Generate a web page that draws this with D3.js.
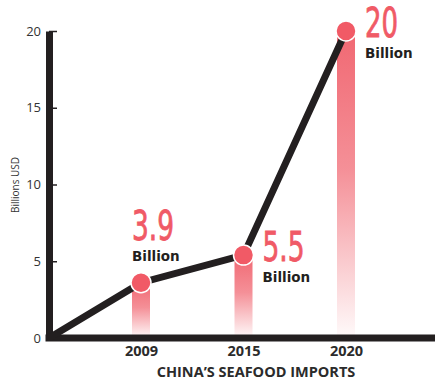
<!DOCTYPE html>
<html>
<head>
<meta charset="utf-8">
<script src="https://cdn.jsdelivr.net/npm/d3@7"></script>
<style>
  body { margin: 0; background: #fff; }
  svg { display: block; }
</style>
</head>
<body>
<div id="chart"></div>
<script>
var years = ["2009", "2015", "2020"];
var imports = [3.6, 5.4, 20];
var valueLabels = ["3.9", "5.5", "20"];
var unitLabel = "Billion";
var yTicks = [0, 5, 10, 15, 20];
var chartTitle = "CHINA\u2019S SEAFOOD IMPORTS";
var yTitle = "Billions USD";

function init ()
{
    var w = 435;
    var h = 380;
    var left = 49;
    var top = 31;
    var bottom = 338;
    var barWidth = 18;

    var xScale = d3.scalePoint()
        .domain(years)
        .range([141, 346]);

    var yScale = d3.scaleLinear()
        .domain([0, 20])
        .range([bottom, top]);

    var svg = d3.select("#chart")
        .append("svg")
        .attr("width", w)
        .attr("height", h);

    var grad = svg.append("defs")
        .append("linearGradient")
        .attr("id", "barFade")
        .attr("x1", 0).attr("y1", 0)
        .attr("x2", 0).attr("y2", 1);
    grad.append("stop").attr("offset", "0%").attr("stop-color", "#f0606b").attr("stop-opacity", 0.95);
    grad.append("stop").attr("offset", "45%").attr("stop-color", "#f0606b").attr("stop-opacity", 0.7);
    grad.append("stop").attr("offset", "100%").attr("stop-color", "#f0606b").attr("stop-opacity", 0.03);

    // fading bars under each point
    svg.selectAll("rect.bar")
        .data(imports)
        .enter()
        .append("rect")
        .attr("class", "bar")
        .attr("x", function(d, i){ return xScale(years[i]) - barWidth / 2; })
        .attr("y", function(d){ return yScale(d); })
        .attr("width", barWidth)
        .attr("height", function(d){ return yScale(0) - yScale(d); })
        .style("fill", "url(#barFade)");

    // y axis
    var yAxis = d3.axisLeft(yScale)
        .tickValues(yTicks)
        .tickSizeInner(-8)
        .tickSizeOuter(0)
        .tickPadding(8);

    var gy = svg.append("g")
        .attr("transform", "translate(" + left + ",0)")
        .call(yAxis);
    gy.select(".domain")
        .attr("stroke", "#231f20")
        .attr("stroke-width", 7);
    gy.selectAll(".tick line")
        .attr("stroke", "#231f20")
        .attr("stroke-width", 1.5);
    gy.selectAll(".tick text")
        .attr("fill", "#333")
        .style("font-family", "'Open Sans', sans-serif")
        .style("font-size", "13px");

    // x axis
    var xAxis = d3.axisBottom(xScale)
        .tickSize(0)
        .tickPadding(8);

    var gx = svg.append("g")
        .attr("transform", "translate(0," + bottom + ")")
        .call(xAxis);
    gx.select(".domain").remove();
    gx.append("line")
        .attr("x1", left - 3.5)
        .attr("x2", w)
        .attr("stroke", "#231f20")
        .attr("stroke-width", 7);
    gx.selectAll(".tick text")
        .attr("fill", "#2b2b2b")
        .style("font-family", "'Open Sans', sans-serif")
        .style("font-weight", "bold")
        .style("font-size", "14.5px");

    // line from origin through the points
    var pts = [[left, yScale(0)]].concat(imports.map(function(d, i){
        return [xScale(years[i]), yScale(d)];
    }));

    svg.append("path")
        .datum(pts)
        .attr("d", d3.line())
        .attr("fill", "none")
        .attr("stroke", "#231f20")
        .attr("stroke-width", 7)
        .attr("stroke-linejoin", "miter");

    svg.selectAll("circle.dot")
        .data(imports)
        .enter()
        .append("circle")
        .attr("class", "dot")
        .attr("cx", function(d, i){ return xScale(years[i]); })
        .attr("cy", function(d){ return yScale(d); })
        .attr("r", 10)
        .attr("fill", "#f15a66")
        .attr("stroke", "#fff")
        .attr("stroke-width", 1.5);

    // value labels: first one above its point, the others to the right
    var labels = svg.selectAll("g.lbl")
        .data(imports)
        .enter()
        .append("g")
        .attr("class", "lbl")
        .attr("transform", function(d, i){
            var x = xScale(years[i]);
            var y = yScale(d);
            if (i == 0) return "translate(" + (x - 9) + "," + (y - 43) + ")";
            return "translate(" + (x + 19) + "," + (y + 6) + ")";
        });

    labels.append("text")
        .text(function(d, i){ return valueLabels[i]; })
        .attr("textLength", function(d, i){ return valueLabels[i].length == 2 ? 33 : 42; })
        .attr("lengthAdjust", "spacingAndGlyphs")
        .attr("fill", "#f05a66")
        .attr("stroke", "#f05a66")
        .attr("stroke-width", 0.8)
        .style("font-family", "'Liberation Sans Narrow', 'DejaVu Sans Condensed', sans-serif")
        .style("font-size", "40px");

    labels.append("text")
        .text(unitLabel)
        .attr("y", 21)
        .attr("fill", "#231f20")
        .style("font-family", "'DejaVu Sans', sans-serif")
        .style("font-weight", "bold")
        .style("font-size", "13.5px");

    // titles
    svg.append("text")
        .text(chartTitle)
        .attr("x", 256)
        .attr("y", 377)
        .attr("text-anchor", "middle")
        .attr("fill", "#2b2b2b")
        .style("font-family", "'Open Sans', sans-serif")
        .style("font-weight", "bold")
        .style("font-size", "14.5px");

    svg.append("text")
        .text(yTitle)
        .attr("transform", "translate(19,185) rotate(-90)")
        .attr("text-anchor", "middle")
        .attr("fill", "#333")
        .style("font-family", "'Open Sans', sans-serif")
        .style("font-size", "10px");
}

window.onload = init;
</script>
</body>
</html>
